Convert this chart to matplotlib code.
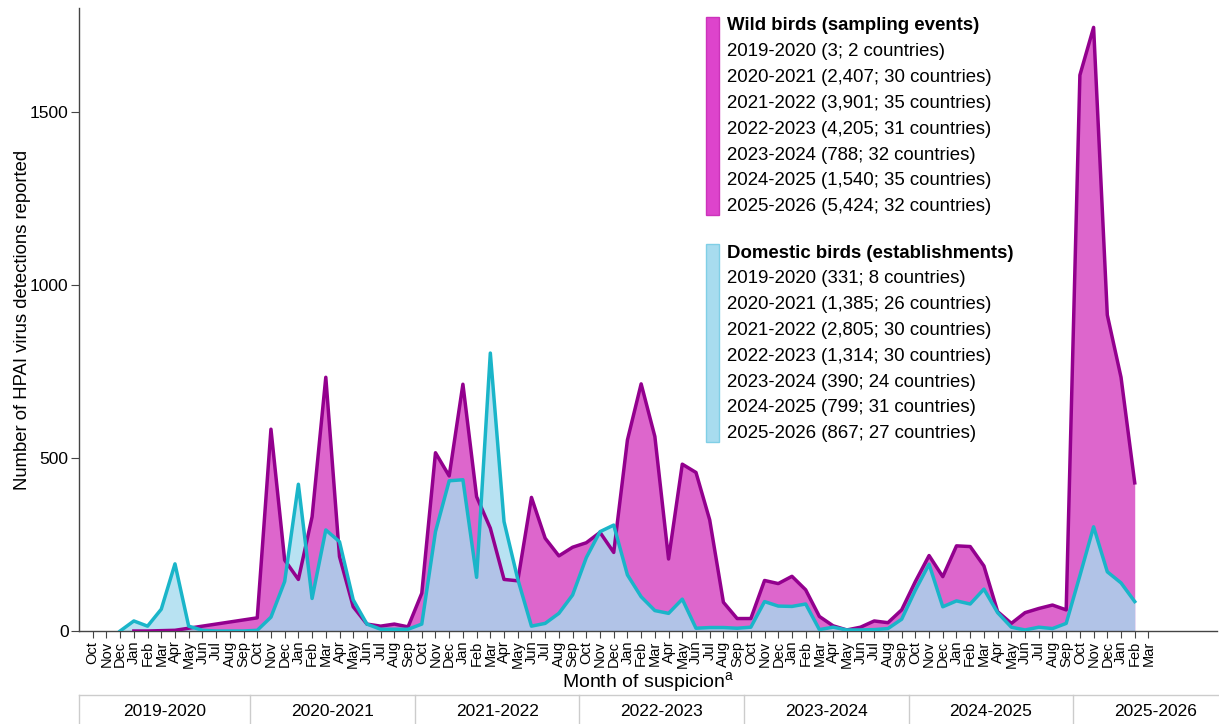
import matplotlib.pyplot as plt
import matplotlib.patches as mpatches
import matplotlib.transforms as mtransforms
import numpy as np

plt.rcParams['font.family'] = ['Liberation Sans', 'DejaVu Sans']
plt.rcParams['mathtext.fontset'] = 'custom'
plt.rcParams['mathtext.rm'] = 'Liberation Sans'

month_names = ["Oct", "Nov", "Dec", "Jan", "Feb", "Mar", "Apr", "May", "Jun", "Jul", "Aug", "Sep"]
seasons = ["2019-2020", "2020-2021", "2021-2022", "2022-2023", "2023-2024", "2024-2025", "2025-2026"]
months = month_names * 6 + month_names[:6]   # Oct 2019 .. Mar 2026

# wild birds, sampling events per month (None = nothing reported)
wild = [None, None, None, 0, 0, 1, 2, None, None, None, None, None,
        38, 583, 205, 149, 330, 733, 215, 70, 20, 14, 20, 12,
        109, 515, 448, 713, 388, 297, 149, 145, 386, 268, 217, 242,
        255, 285, 227, 552, 714, 562, 208, 482, 458, 321, 83, 36,
        36, 146, 137, 158, 119, 42, 15, 3, 11, 29, 24, 61,
        143, 218, 157, 246, 244, 188, 56, 22, 53, 65, 75, 61,
        1606, 1744, 913, 733, 428, None]

# domestic birds, establishments per month
domestic = [None, None, 0, 29, 14, 63, 194, 14, 2, 0, 0, 0,
            2, 40, 143, 424, 94, 292, 258, 90, 20, 5, 5, 5,
            20, 287, 434, 437, 155, 803, 316, 150, 14, 22, 51, 104,
            212, 287, 306, 162, 99, 59, 51, 92, 8, 10, 10, 8,
            11, 85, 72, 71, 78, 4, 11, 3, 3, 4, 7, 34,
            118, 193, 70, 87, 78, 121, 53, 11, 3, 11, 7, 22,
            160, 301, 171, 139, 85, None]

wild_legend = ["2019-2020 (3; 2 countries)", "2020-2021 (2,407; 30 countries)",
               "2021-2022 (3,901; 35 countries)", "2022-2023 (4,205; 31 countries)",
               "2023-2024 (788; 32 countries)", "2024-2025 (1,540; 35 countries)",
               "2025-2026 (5,424; 32 countries)"]
dom_legend = ["2019-2020 (331; 8 countries)", "2020-2021 (1,385; 26 countries)",
              "2021-2022 (2,805; 30 countries)", "2022-2023 (1,314; 30 countries)",
              "2023-2024 (390; 24 countries)", "2024-2025 (799; 31 countries)",
              "2025-2026 (867; 27 countries)"]

W, H = 1219, 724
fig = plt.figure(figsize=(W / 100, H / 100), dpi=100)
ax = fig.add_axes([79 / W, 1 - 631 / H, (1217 - 79) / W, (631 - 8) / H])


def valid(vals):
    x = np.array([i for i, v in enumerate(vals) if v is not None])
    y = np.array([v for v in vals if v is not None], dtype=float)
    return x, y


xw, yw = valid(wild)
xd, yd = valid(domestic)

ax.fill_between(xw, 0, yw, color='#dd66cc', lw=0, zorder=1)
ax.fill_between(xd, 0, yd, color='#a6dbef', alpha=0.8, lw=0, zorder=2)
ax.plot(xw, yw, color='#93008e', lw=2.5, zorder=3)
ax.plot(xd, yd, color='#1ab5c9', lw=2.5, zorder=4)

ax.set_xlim(-1, 82)
ax.set_ylim(0, 1800)
ax.set_xticks(range(len(months)))
ax.set_xticklabels(months, rotation=90, fontsize=10.5)
ax.set_yticks([0, 500, 1000, 1500])
ax.tick_params(axis='y', labelsize=12.5, length=6, pad=1.5, color='#444444')
ax.tick_params(axis='x', length=5, pad=2, color='#444444')
for s in ['top', 'right']:
    ax.spines[s].set_visible(False)
for s in ['left', 'bottom']:
    ax.spines[s].set_color('#444444')
    ax.spines[s].set_linewidth(1)

ax.set_ylabel("Number of HPAI virus detections reported", fontsize=13.3)
ax.yaxis.set_label_coords((31 - 79) / (1217 - 79), 0.5)
ax.set_xlabel("Month of suspicion$^{\\rm a}$", fontsize=14, labelpad=1)

# season strip under the axis
trans = mtransforms.blended_transform_factory(ax.transData, ax.transAxes)
y_top = (631 - 695) / (631 - 8)
y_bot = (631 - 726) / (631 - 8)
y_txt = (631 - 711) / (631 - 8)
ax.plot([-1, 83], [y_top, y_top], transform=trans, color='#cccccc', lw=1, clip_on=False)
bounds = [-1] + [11.5 + 12 * k for k in range(6)]
for b in bounds:
    ax.plot([b, b], [y_top, y_bot], transform=trans, color='#cccccc', lw=1, clip_on=False)
for k, s in enumerate(seasons):
    left = -0.5 + 12 * k if k > 0 else -1
    right = min(11.5 + 12 * k, 82)
    ax.text((left + right) / 2 if k < 6 else 77.5, y_txt, s, transform=trans,
            ha='center', va='center', fontsize=12.5, clip_on=False)

# legend, drawn by hand
def legend_block(top, header, rows, face, edge):
    fig.patches.append(mpatches.Rectangle((706 / W, 1 - (top + 198) / H), 13 / W, 198 / H,
                                          transform=fig.transFigure, facecolor=face,
                                          edgecolor=edge, lw=1))
    fig.text(727 / W, 1 - (top + 9) / H, header, fontsize=13.4, fontweight='bold', va='center')
    for j, r in enumerate(rows):
        fig.text(727 / W, 1 - (top + 9 + 25.8 * (j + 1)) / H, r, fontsize=13.4, va='center')


legend_block(17, "Wild birds (sampling events)", wild_legend, '#dd44cc', '#cc33bb')
legend_block(244, "Domestic birds (establishments)", dom_legend, '#a8dcef', '#80cfe6')

fig.savefig("out.png", dpi=100)
